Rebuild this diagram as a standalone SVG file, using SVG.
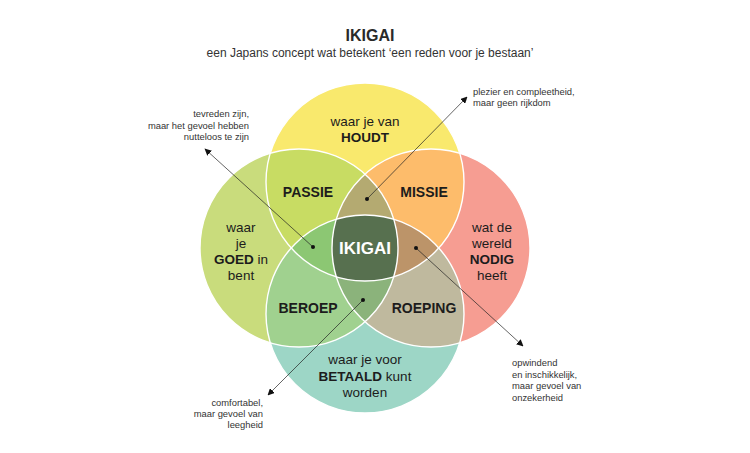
<svg xmlns="http://www.w3.org/2000/svg" width="750" height="453" viewBox="0 0 750 453">
<style>
text{font-family:"Liberation Sans",Arial,sans-serif;fill:#1c1c1c}
.t{font-size:16px;font-weight:700;text-anchor:middle;fill:#2a2a2a}
.st{font-size:12px;text-anchor:middle;fill:#333}
.lbl{font-size:13.5px;text-anchor:middle}
.b{font-weight:700}
.rg{font-size:14px;font-weight:700;text-anchor:middle}
.ik{font-size:17px;font-weight:700;fill:#fff;text-anchor:middle}
.n{font-size:9.4px;fill:#333}
.r{text-anchor:end}
.edge{fill:none;stroke:#fff;stroke-width:1.4}
.conn{stroke:#222;stroke-width:0.7;fill:none;marker-end:url(#ah)}
.dot{fill:#111}
</style>
<defs>
<clipPath id="cT"><circle cx="365" cy="182" r="99"/></clipPath>
<clipPath id="cB"><circle cx="365" cy="314" r="99"/></clipPath>
<clipPath id="cL"><circle cx="299" cy="248" r="99"/></clipPath>
<clipPath id="cR"><circle cx="431" cy="248" r="99"/></clipPath>
<circle id="T" cx="365" cy="182" r="99"/>
<circle id="B" cx="365" cy="314" r="99"/>
<circle id="L" cx="299" cy="248" r="99"/>
<circle id="R" cx="431" cy="248" r="99"/>
<marker id="ah" viewBox="0 0 10 10" refX="9" refY="5" markerWidth="7" markerHeight="7" orient="auto" markerUnits="userSpaceOnUse"><path d="M0,0 L10,5 L0,10 z" fill="#111"/></marker>
</defs>

<g id="title">
<text class="t" x="370" y="41">IKIGAI</text>
<text class="st" x="370" y="57">een Japans concept wat betekent ‘een reden voor je bestaan’</text>
</g>

<g id="regions">
<use href="#T" fill="#f9e96d"/>
<use href="#L" fill="#c9dc7c"/>
<use href="#R" fill="#f69d92"/>
<use href="#B" fill="#9dd6c6"/>
<g clip-path="url(#cT)"><use href="#L" fill="#c8dc63"/><use href="#R" fill="#fdbc6b"/></g>
<g clip-path="url(#cB)"><use href="#L" fill="#a0d18f"/><use href="#R" fill="#bfb99e"/></g>
<g clip-path="url(#cT)"><g clip-path="url(#cL)"><use href="#R" fill="#b4aa71"/><use href="#B" fill="#8cc773"/></g></g>
<g clip-path="url(#cB)"><g clip-path="url(#cR)"><use href="#T" fill="#bc9469"/><use href="#L" fill="#8bb37b"/></g></g>
<g clip-path="url(#cT)"><g clip-path="url(#cB)"><g clip-path="url(#cL)"><use href="#R" fill="#57704f"/></g></g></g>
<use href="#T" class="edge"/>
<use href="#L" class="edge"/>
<use href="#R" class="edge"/>
<use href="#B" class="edge"/>
</g>

<g id="node-houdt">
<text class="lbl" x="365" y="126">waar je van</text>
<text class="lbl b" x="365" y="142">HOUDT</text>
</g>
<g id="node-goed">
<text class="lbl" x="241" y="232">waar</text>
<text class="lbl" x="241" y="248">je</text>
<text class="lbl" x="241" y="264"><tspan class="b">GOED</tspan> in</text>
<text class="lbl" x="241" y="280">bent</text>
</g>
<g id="node-nodig">
<text class="lbl" x="492" y="232">wat de</text>
<text class="lbl" x="492" y="248">wereld</text>
<text class="lbl b" x="492" y="264">NODIG</text>
<text class="lbl" x="492" y="280">heeft</text>
</g>
<g id="node-betaald">
<text class="lbl" x="365" y="364">waar je voor</text>
<text class="lbl" x="365" y="381"><tspan class="b">BETAALD</tspan> kunt</text>
<text class="lbl" x="365" y="397">worden</text>
</g>
<g id="node-passie"><text class="rg" x="308" y="197">PASSIE</text></g>
<g id="node-missie"><text class="rg" x="424" y="197">MISSIE</text></g>
<g id="node-beroep"><text class="rg" x="308" y="313">BEROEP</text></g>
<g id="node-roeping"><text class="rg" x="424" y="313">ROEPING</text></g>
<g id="node-ikigai"><text class="ik" x="365" y="254">IKIGAI</text></g>

<g id="note-tl">
<text class="n r" x="249" y="117">tevreden zijn,</text>
<text class="n r" x="249" y="128.5">maar het gevoel hebben</text>
<text class="n r" x="249" y="140">nutteloos te zijn</text>
</g>
<g id="note-tr">
<text class="n" x="473" y="94.5">plezier en compleetheid,</text>
<text class="n" x="473" y="106">maar geen rijkdom</text>
</g>
<g id="note-br">
<text class="n" x="512" y="366">opwindend</text>
<text class="n" x="512" y="377.5">en inschikkelijk,</text>
<text class="n" x="512" y="389">maar gevoel van</text>
<text class="n" x="512" y="400.5">onzekerheid</text>
</g>
<g id="note-bl">
<text class="n r" x="263" y="406">comfortabel,</text>
<text class="n r" x="263" y="417">maar gevoel van</text>
<text class="n r" x="263" y="428">leegheid</text>
</g>

<g id="connectors">
<line class="conn" x1="313" y1="247" x2="205" y2="149"/>
<line class="conn" x1="367" y1="199" x2="467" y2="97"/>
<line class="conn" x1="416" y1="248" x2="523" y2="346"/>
<line class="conn" x1="363" y1="300" x2="268" y2="395"/>
<circle class="dot" cx="313" cy="247" r="2"/>
<circle class="dot" cx="367" cy="199" r="2"/>
<circle class="dot" cx="416" cy="248" r="2"/>
<circle class="dot" cx="363" cy="300" r="2"/>
</g>
</svg>
